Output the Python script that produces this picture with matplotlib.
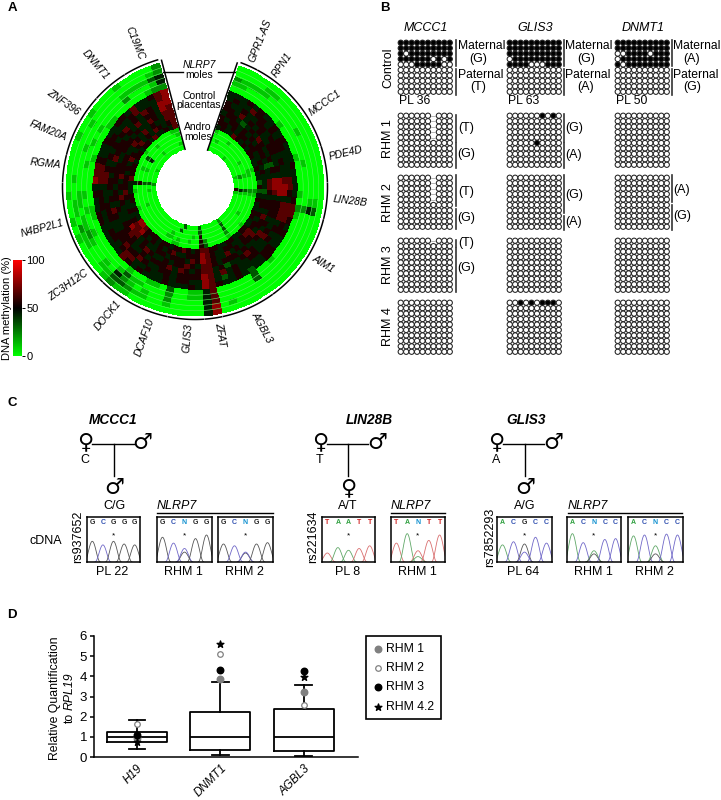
import numpy as np
import matplotlib
matplotlib.use('Agg')
import matplotlib.pyplot as plt
from matplotlib.colors import LinearSegmentedColormap, Normalize
from matplotlib.cm import ScalarMappable

plt.rcParams['font.family'] = ['Liberation Sans', 'DejaVu Sans']

W, H = 721, 800

# panel A, sectors in degrees clockwise from north
gene_edges = [20, 28, 44, 72, 88, 104, 144, 168, 176, 192, 204, 224, 240, 272, 284, 300, 312, 328, 344]
gene_labels = [('GPR1-AS', 260, 41, 68), ('RPN1', 282, 65, 55), ('MCCC1', 325, 103, 35),
               ('PDE4D', 346, 153, 13), ('LIN28B', 350, 201, -7), ('AIM1', 323, 264, -32),
               ('AGBL3', 262, 327, -62), ('ZFAT', 220, 335, -80), ('GLIS3', 188, 338, 85),
               ('DCAF10', 145, 337, 70), ('DOCK1', 108, 315, 50), ('ZC3H12C', 68, 285, 35),
               ('N4BP2L1', 42, 228, 15), ('RGMA', 45, 164, -6), ('FAM20A', 48, 131, -22),
               ('ZNF396', 63, 102, -35), ('DNMT1', 95, 65, -50), ('C19MC', 135, 43, -68)]

# methylation deciles per ring, one group per gene sector
moles_rings = [
    '00 0000 0000000 0000 0000 0000000000 000000 74 0000 000 00112 1000 01010010 000 0010 010 0010 0002',
    '00 0011 0000000 0000 0013 0000000000 000010 74 0000 100 11233 1100 11201100 100 0000 100 0000 0012',
    '21 1110 0000100 0000 0014 0000000000 000000 64 0000 200 10124 0100 12110110 000 0100 000 0011 1134',
    '11 0000 0000000 0100 0002 0000000000 300000 64 1100 200 01131 0000 01001010 001 0010 100 0020 0014',
    '00 0000 0010000 1000 0102 1000000100 300000 64 1100 301 10010 0000 00011000 000 1000 011 0000 0122',
]
control_rings = [
    '44 4545 4454544 4544 4456 6545445544 345445 67 4544 454 44545 6444 44554454 766 5445 445 5464 4567',
    '45 4465 5454554 4446 6546 6655445544 445434 67 4455 454 45446 6545 54445554 666 5445 544 4564 4467',
    '54 4544 5545554 5446 7746 6645454455 445464 67 5555 455 44565 5655 44555444 665 4545 456 4546 5477',
    '55 4645 4544554 4547 7745 5544564456 544354 66 5456 465 55454 4555 44564545 545 4655 545 4645 5476',
    '45 5434 5465445 3547 7645 5545465445 455545 66 4565 545 44565 4565 54454554 555 5445 554 5446 5466',
    '54 5545 4545554 3446 6545 5465546554 546445 67 5645 554 55445 4667 54445645 465 5554 465 4645 4466',
    '55 4545 5455445 4544 4345 5454556654 455445 67 5554 465 45454 5766 54544565 554 5465 456 4546 5456',
    '45 4465 4545544 5443 5345 4455445544 554455 66 5456 554 55455 5677 44545544 465 5545 545 5464 4546',
]
andro_rings = [
    '10 0000 0000000 1000 0210 0000001000 100000 35 0000 011 00000 0000 00100010 400 0000 010 0000 0011',
    '00 0010 0000000 1100 0210 0000000000 200000 25 0010 010 11000 0000 00000000 500 0100 300 0100 0001',
    '01 0000 0000100 0100 0310 0000100000 300000 05 0100 000 10000 0000 00100000 300 0100 400 0000 0000',
    '00 0000 0000000 0200 0410 0000000000 300000 03 0000 030 00000 0000 00000010 300 0000 000 0100 0001',
    '00 0000 1000000 0100 0510 0000000000 200000 03 0000 300 00000 0000 00000000 200 0010 000 0000 0000',
]

# panel B, bisulfite clones: 1 methylated, 0 unmethylated, . no data
clones = {
    ('MCCC1', 0): ['1111111111', '1111111111', '1011111111', '1111110101', '0001111100',
                   '0000000000', '0000000000', '0000000000', '0000000000', '0000000000'],
    ('GLIS3', 0): ['1111111111', '1111111111', '1111111111', '0111111111', '1111000111',
                   '0000000000', '0000000000', '0000000000', '0000000000', '0000000000'],
    ('DNMT1', 0): ['1111111111', '1111111111', '0011110111', '0111111111', '1011111111',
                   '0000000000', '0000000000', '0000000000', '0000000000', '0000000000'],
    ('MCCC1', 1): ['000000.000', '000000.000', '000000.000', '000000.000', '000000.000',
                   '0000000000', '0000000000', '0000000000', '0000000000', '0000000000'],
    ('GLIS3', 1): ['0000001010', '0000000000', '0000000000', '0000000000', '0000000000',
                   '0000010000', '0000000000', '0000000000', '0000000000', '0000000000'],
    ('MCCC1', 2): ['000000.000', '000000.000', '000000.000', '000000.000', '000000.000',
                   '0000000000', '0000000000', '0000000000', '0000000000', '0000000000'],
    ('MCCC1', 3): ['000000.000', '0000000000', '0000000000', '0000000000', '0000000000',
                   '0000000000', '0000000000', '0000000000', '0000000000', '0000000000'],
    ('GLIS3', 4): ['0010101110', '0000000000', '0000000000', '0000000000', '0000000000',
                   '0000000000', '0000000000', '0000000000', '0000000000', '0000000000'],
}
empty_clones = ['0000000000'] * 10
grid_genes = ['MCCC1', 'GLIS3', 'DNMT1']
grid_rows = ['Control', 'RHM 1', 'RHM 2', 'RHM 3', 'RHM 4']
control_ids = ['PL 36', 'PL 63', 'PL 50']

# panel C, per box: bases, then peaks per base as (base, height)
chromatograms = [
    ('GCGGG', [[('G', .46)], [('C', .38)], [('G', .46)], [('G', .40)], [('G', .38)]]),
    ('GCNGG', [[('G', .55)], [('C', .42)], [('G', .22), ('C', .30)], [('G', .52)], [('G', .60)]]),
    ('GCNGG', [[('G', .40)], [('C', .36)], [('G', .20), ('C', .22)], [('G', .40)], [('G', .43)]]),
    ('TAATT', [[('T', .20)], [('A', .32)], [('A', .26)], [('T', .30)], [('T', .36)]]),
    ('TANTT', [[('T', .42)], [('A', .63)], [('T', .25), ('A', .12)], [('T', .48)], [('T', .60)]]),
    ('ACGCC', [[('A', .38)], [('C', .45)], [('G', .40), ('C', .22)], [('C', .55)], [('C', .42)]]),
    ('ACNCC', [[('A', .63)], [('C', .43)], [('A', .25), ('G', .18)], [('C', .50)], [('C', .52)]]),
    ('ACNCC', [[('A', .58)], [('C', .60)], [('A', .36), ('G', .18)], [('C', .62)], [('C', .60)]]),
]
base_colors = {'G': '#555555', 'C': '#7068c8', 'A': '#60a868', 'T': '#d97070'}
label_colors = {'G': '#222222', 'C': '#3050b0', 'A': '#30a040', 'T': '#d02020', 'N': '#1090d0'}

# panel D
box_genes = ['H19', 'DNMT1', 'AGBL3']
box_q1 = [0.72, 0.35, 0.30]
box_med = [1.0, 0.97, 1.0]
box_q3 = [1.25, 2.25, 2.38]
box_low = [0.42, 0.10, 0.05]
box_high = [1.85, 3.70, 3.57]
rhm1 = [0.95, 3.85, 3.2]
rhm2 = [1.65, 5.1, 2.6]
rhm3 = [1.1, 4.3, 4.25]
rhm42 = [0.75, 5.6, 3.97]

fig = plt.figure(figsize=(W / 100, H / 100), dpi=100)


def px_axes(x0, y0, x1, y1, **kw):
    return fig.add_axes([x0 / W, 1 - y1 / H, (x1 - x0) / W, (y1 - y0) / H], **kw)


over = px_axes(0, 0, W, H)
over.set_xlim(0, W)
over.set_ylim(H, 0)
over.axis('off')


def txt(x, y, s, size=9, ha='center', va='center', **kw):
    over.text(x, y, s, fontsize=size, ha=ha, va=va, **kw)


for letter, x, y in [('A', 12, 8), ('B', 385, 8), ('C', 12, 403), ('D', 12, 615)]:
    txt(x, y, letter, size=9.5, fontweight='bold')

# A: circular heatmap
gr = LinearSegmentedColormap.from_list('gr', ['#00ff00', '#000000', '#ff0000'])
norm = Normalize(0, 100)
cx, cy, rmax = 195, 187, 135
pol = px_axes(cx - rmax, cy - rmax, cx + rmax, cy + rmax, projection='polar')
pol.set_theta_zero_location('N')
pol.set_theta_direction(-1)
pol.set_ylim(0, rmax)
pol.patch.set_alpha(0)

n_cols = 81
theta = np.radians(np.linspace(20, 344, n_cols + 1))
ring_groups = [(andro_rings, 39, 62), (control_rings, 62, 103), (moles_rings, 103, 129)]
for rows, r0, r1 in ring_groups:
    vals = np.array([[int(c) * 100 / 9 for c in row.replace(' ', '')] for row in rows[::-1]])
    edges = np.linspace(r0, r1, len(rows) + 1)
    pol.pcolormesh(theta, edges, vals, cmap=gr, norm=norm, shading='flat')
    if len(rows) == 5:
        tt = np.radians(np.linspace(20, 344, 200))
        for e in edges[1:-1]:
            pol.plot(tt, np.full(200, e), color='#66e866', lw=0.4)
for deg in [18.8, 345.2]:
    pol.plot(np.radians([deg, deg]), [39, 131], color='k', lw=1.1)
for a, b in zip(gene_edges[:-1], gene_edges[1:]):
    tt = np.radians(np.linspace(a + 0.4, b - 0.4, 40))
    pol.plot(tt, np.full(40, 132.5), color='k', lw=1.1)
pol.set_ylim(0, rmax)
pol.axis('off')

for name, x, y, rot in gene_labels:
    txt(x, y, name, size=7.5, style='italic', rotation=rot, rotation_mode='anchor')
txt(199, 65.5, 'NLRP7', size=7.5, style='italic')
txt(199, 75, 'moles', size=7.5)
over.plot([163, 183], [72, 72], color='k', lw=1)
over.plot([218, 235], [72, 72], color='k', lw=1)
txt(199, 96, 'Control', size=7.5)
txt(199, 105.5, 'placentas', size=7.5)
txt(198, 127.5, 'Andro', size=7.5)
txt(198, 137, 'moles', size=7.5)

cax = px_axes(13, 260, 22, 356)
cb = fig.colorbar(ScalarMappable(norm=norm, cmap=gr), cax=cax)
cb.set_ticks([0, 50, 100])
cb.ax.tick_params(labelsize=8, length=2, width=0.7, pad=1)
cb.outline.set_visible(False)
txt(7, 308, 'DNA methylation (%)', size=8, rotation=90)

# B: clone grids
col_x = [398, 507, 615]
row_y = [40, 113, 175, 238, 300]
step = 5.45
for gi, gene in enumerate(grid_genes):
    txt(col_x[gi] + 28, 28, gene, size=9, style='italic')
    txt(col_x[gi] + 1, 101, control_ids[gi], size=8.8, ha='left')
    for ri, y0 in enumerate(row_y):
        rows = clones.get((gene, ri), empty_clones)
        xs, ys, fc = [], [], []
        for i, row in enumerate(rows):
            for j, c in enumerate(row):
                px = col_x[gi] + (j + 0.5) * step
                py = y0 + (i + 0.5) * step
                if c == '.':
                    over.plot([px - 2, px + 2], [py, py], color='#999999', lw=0.5)
                    continue
                xs.append(px)
                ys.append(py)
                fc.append('k' if c == '1' else 'w')
        over.scatter(xs, ys, s=14, facecolors=fc, edgecolors='#222222', linewidths=0.75)
for name, y in zip(grid_rows, [68, 139, 203, 265, 327]):
    txt(388, y, name, size=9, rotation=90)

bars = [(456, 40, 66), (456, 69, 95), (564, 40, 66), (564, 69, 95), (672, 40, 66), (672, 69, 95),
        (456, 115, 142), (456, 143, 168), (564, 114, 142), (564, 143, 168),
        (456, 175, 206), (456, 209, 229), (564, 175, 213), (564, 216, 230),
        (672, 175, 202), (672, 205, 230), (456, 240, 247), (456, 248, 292)]
for x, y0, y1 in bars:
    over.plot([x, x], [y0, y1], color='#333333', lw=1.2)
for x in [458, 565.5, 673.5]:
    txt(x, 46, 'Maternal', size=8.7, ha='left')
    txt(x, 75, 'Paternal', size=8.7, ha='left')
for xt, a, b in [(478, '(G)', '(T)'), (586, '(G)', '(A)'), (692, '(A)', '(G)')]:
    txt(xt, 59, a)
    txt(xt, 87, b)
for x, y, s in [(466, 128, '(T)'), (466, 154, '(G)'), (574, 128, '(G)'), (574, 155, '(A)'),
                (466, 192, '(T)'), (466, 218, '(G)'), (574, 195, '(G)'), (574, 222, '(A)'),
                (682, 190, '(A)'), (682, 216, '(G)'), (466, 243, '(T)'), (466, 268, '(G)')]:
    txt(x, y, s)

# C: pedigrees
pedigrees = [('MCCC1', 113, 85, 92, 135, 114, 142, 'C', '\u2642', 'C/G'),
             ('LIN28B', 369, 320, 327, 368, 348, 377, 'T', '\u2640', 'A/T'),
             ('GLIS3', 526, 496, 503, 544, 525, 553, 'A', '\u2642', 'A/G')]
for gene, xt, xf, l0, l1, xv, xm, allele, child, geno in pedigrees:
    txt(xt, 420, gene, size=9.8, style='italic', fontweight='bold')
    txt(xf, 442, '\u2640', size=16, family='DejaVu Sans')
    txt(xm, 443, '\u2642', size=16, family='DejaVu Sans')
    txt(xf, 460, allele)
    over.plot([l0, l1], [444, 444], color='k', lw=1)
    over.plot([xv, xv], [444, 476], color='k', lw=1)
    txt(xv, 488, child, size=16, family='DejaVu Sans')
    txt(xv, 506, geno)

boxes = [(87, 140), (157, 212), (218, 273), (322, 375), (391, 445), (497, 552), (567, 621), (628, 683)]
box_ids = ['PL 22', 'RHM 1', 'RHM 2', 'PL 8', 'RHM 1', 'PL 64', 'RHM 1', 'RHM 2']
for (x0, x1), (bases, peaks), name in zip(boxes, chromatograms, box_ids):
    a = px_axes(x0, 517, x1, 562)
    a.set_xlim(0, 5)
    a.set_ylim(0, 1)
    a.set_xticks([])
    a.set_yticks([])
    for i, group in enumerate(peaks):
        a.text(i + 0.5, 0.87, bases[i], fontsize=5, fontweight='bold', ha='center', va='center',
               color=label_colors[bases[i]])
        for base, h in group:
            xx = np.linspace(i - 0.25, i + 1.25, 40)
            a.plot(xx, h * np.cos((xx - i - 0.5) * np.pi / 1.5) ** 2, color=base_colors[base], lw=0.6)
    a.text(2.5, 0.58, '*', fontsize=6, ha='center', va='center')
    for s in a.spines.values():
        s.set_linewidth(1.1)
    txt((x0 + x1) / 2 - 1, 572, name)

for x0, x1 in [(157, 273), (391, 445), (568, 682)]:
    over.plot([x0, x1], [513, 513], color='k', lw=1)
    txt(x0, 506, 'NLRP7', ha='left', style='italic')
for x, s in [(78, 'rs937652'), (313, 'rs221634'), (490, 'rs7852293')]:
    txt(x, 537, s, rotation=90)
txt(46, 541, 'cDNA')

# D: boxplots
ax = px_axes(94, 636, 358, 757)
stats = [dict(q1=a, med=b, q3=c, whislo=d, whishi=e, fliers=[])
         for a, b, c, d, e in zip(box_q1, box_med, box_q3, box_low, box_high)]
line = dict(color='k', lw=1.3)
ax.bxp(stats, positions=[1, 2, 3], widths=0.72, capwidths=0.2, boxprops=line, medianprops=line,
       whiskerprops=line, capprops=line, showfliers=False)
ax.set_xlim(0.485, 3.65)
ax.set_ylim(0, 6)
pos = [1, 2, 3]
h1 = ax.scatter(pos, rhm1, s=22, color='#808080', zorder=3, label='RHM 1')
h2 = ax.scatter(pos, rhm2, s=16, facecolors='w', edgecolors='#808080', linewidths=0.9, zorder=3, label='RHM 2')
h3 = ax.scatter(pos, rhm3, s=22, color='k', zorder=3, label='RHM 3')
h4 = ax.scatter(pos, rhm42, s=26, color='k', marker='*', zorder=3, label='RHM 4.2')
ax.set_xticks(pos)
ax.set_xticklabels(box_genes, rotation=45, ha='right', rotation_mode='anchor', style='italic', fontsize=8.5)
ax.set_yticks(range(7))
ax.tick_params(axis='y', labelsize=9.5, length=3, width=1.1, pad=2)
ax.tick_params(axis='x', length=0, pad=4)
ax.spines['top'].set_visible(False)
ax.spines['right'].set_visible(False)
ax.spines['left'].set_linewidth(1.1)
ax.spines['bottom'].set_linewidth(1.1)
txt(55, 698, 'Relative Quantification', size=8.8, rotation=90)
txt(70, 717.5, 'to', size=8.8, rotation=90)
txt(70, 691, 'RPL19', size=8.8, rotation=90, style='italic')
leg = ax.legend(handles=[h1, h2, h3, h4], loc='upper left', bbox_to_anchor=((366 - 94) / 264, 1.0),
                borderaxespad=0, frameon=True, fancybox=False, edgecolor='k', framealpha=1, fontsize=8.8,
                handlelength=0.8, handletextpad=0.3, labelspacing=0.6, borderpad=0.55)
leg.get_frame().set_linewidth(1.2)

fig.savefig('out.png', dpi=100)
